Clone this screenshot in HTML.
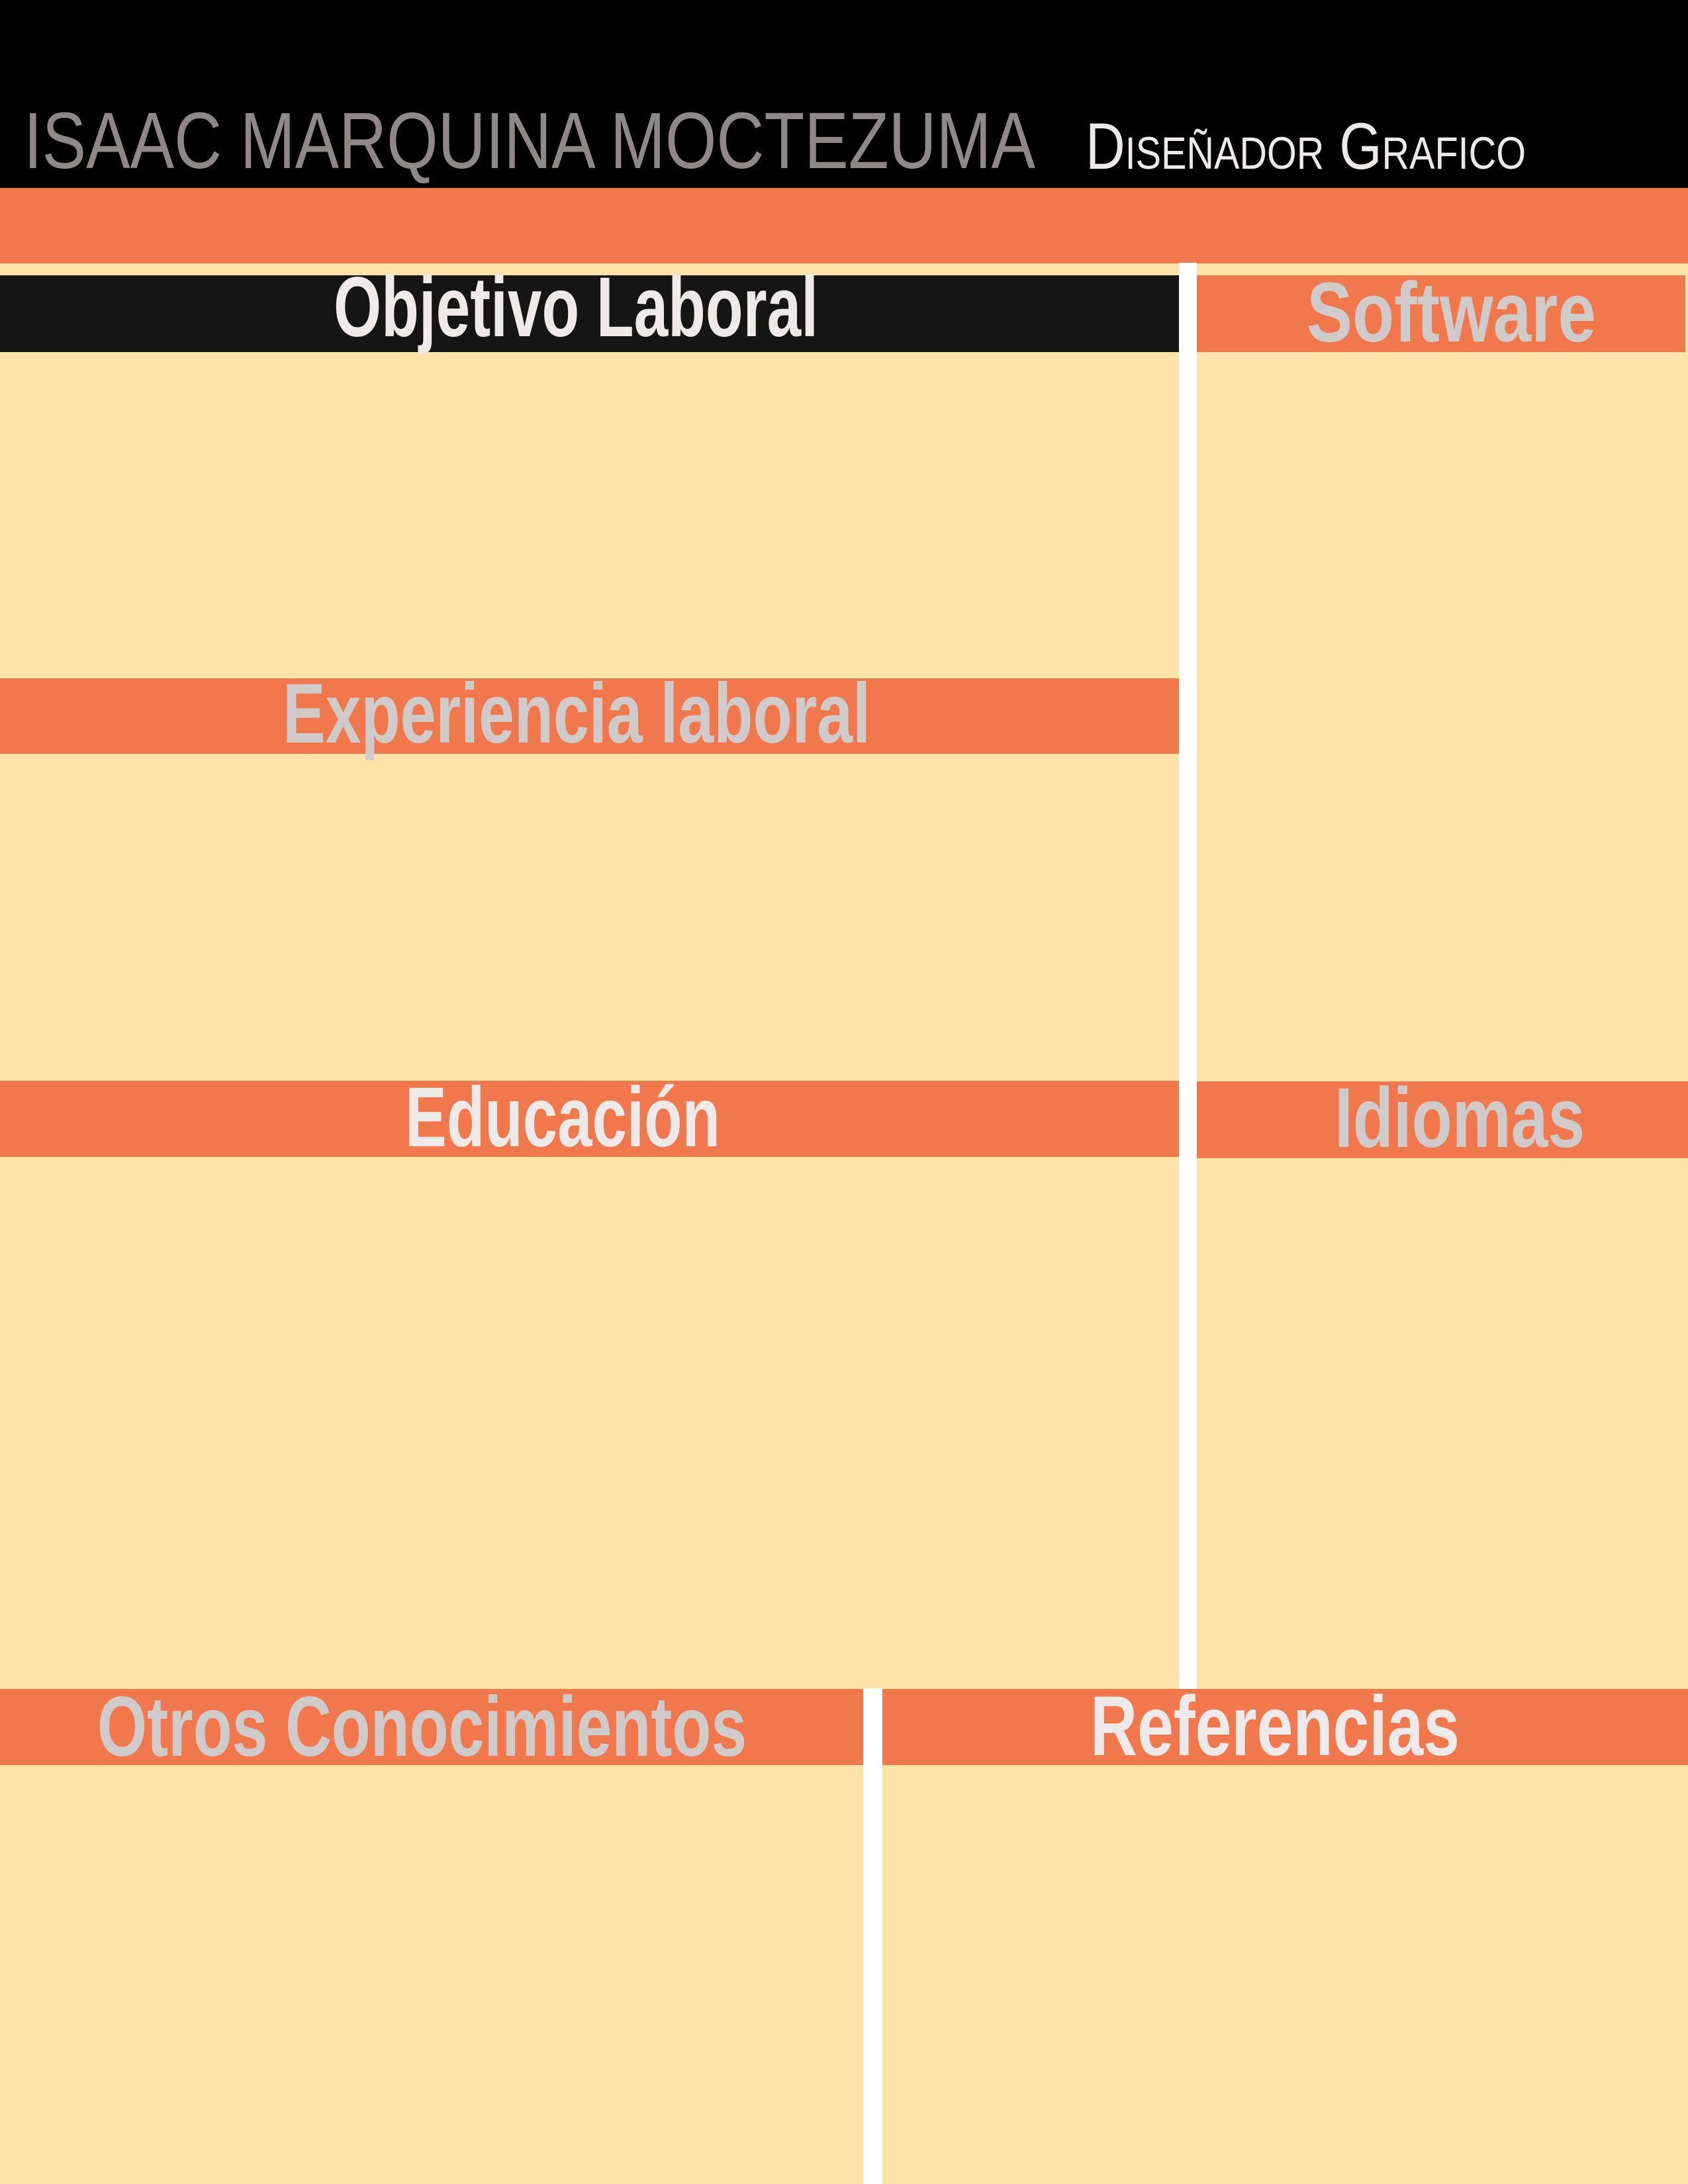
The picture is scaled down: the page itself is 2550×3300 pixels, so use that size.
<!DOCTYPE html>
<html><head><meta charset="utf-8"><style>
html,body{margin:0;padding:0}
body{width:2550px;height:3300px;position:relative;overflow:hidden;background:#fde3a7;font-family:"Liberation Sans Narrow","Liberation Sans",sans-serif}
.r{position:absolute}
.t{position:absolute;white-space:nowrap;line-height:1;font-weight:bold;transform-origin:0 0}
</style></head><body>
<div class="r" style="left:0;top:0;width:2550px;height:284px;background:#000"></div>
<div class="r" style="left:0;top:284px;width:2550px;height:114px;background:#f1784c"></div>
<div class="r" style="left:1781px;top:397px;width:27px;height:2155px;background:#fff"></div>
<div class="r" style="left:1304px;top:2551px;width:29px;height:749px;background:#fff"></div>

<div class="r" style="left:0;top:416px;width:1781px;height:116px;background:#151515"></div>
<div class="r" style="left:1808px;top:416px;width:738px;height:116px;background:#f1784c"></div>
<div class="r" style="left:0;top:1025px;width:1781px;height:114px;background:#f1784c"></div>
<div class="r" style="left:0;top:1633px;width:1781px;height:115px;background:#f1784c"></div>
<div class="r" style="left:1808px;top:1634px;width:742px;height:116px;background:#f1784c"></div>
<div class="r" style="left:0;top:2552px;width:1304px;height:115px;background:#f1784c"></div>
<div class="r" style="left:1333px;top:2552px;width:1217px;height:115px;background:#f1784c"></div>

<span class="t" data-x="36" data-w="1528" data-base="255" data-fs="121" style="font-weight:normal;color:#8e8888">ISAAC MARQUINA MOCTEZUMA</span>
<span class="t" data-x="1640" data-w="665" data-base="255" data-fs="99" style="font-weight:normal;color:#eeeaea;font-variant:small-caps">Diseñador Grafico</span>
<span class="t" data-x="504" data-w="732" data-base="510" data-fs="128" style="color:#eeeaea">Objetivo Laboral</span>
<span class="t" data-x="1974" data-w="437" data-base="518" data-fs="128" style="color:#d0cbcb">Software</span>
<span class="t" data-x="427" data-w="888" data-base="1124" data-fs="128" style="color:#d0cbcb">Experiencia laboral</span>
<span class="t" data-x="612" data-w="476" data-base="1734" data-fs="128" style="color:#eeeaea">Educación</span>
<span class="t" data-x="2016" data-w="378" data-base="1735" data-fs="128" style="color:#d0cbcb">Idiomas</span>
<span class="t" data-x="147" data-w="981" data-base="2655" data-fs="128" style="color:#d0cbcb">Otros Conocimientos</span>
<span class="t" data-x="1647" data-w="558" data-base="2654" data-fs="128" style="color:#eeeaea">Referencias</span>
<script>
document.querySelectorAll('.t').forEach(function(el){
  var fs=+el.dataset.fs;
  el.style.fontSize=fs+'px';
  el.style.left=el.dataset.x+'px';
  el.style.top=(+el.dataset.base - 0.85*fs)+'px';
  var w=el.getBoundingClientRect().width;
  el.style.transform='scaleX('+(+el.dataset.w/w)+')';
});
</script>
</body></html>
